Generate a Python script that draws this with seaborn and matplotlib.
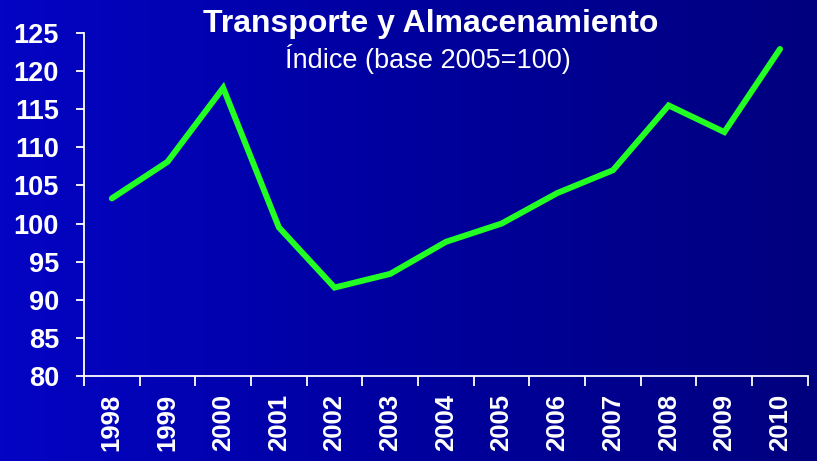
import numpy as np
import pandas as pd
import matplotlib
matplotlib.use("Agg")
import matplotlib.pyplot as plt
import seaborn as sns
from matplotlib.colors import LinearSegmentedColormap

# data
years = ["1998", "1999", "2000", "2001", "2002", "2003", "2004",
         "2005", "2006", "2007", "2008", "2009", "2010"]
indice = [103.3, 108.1, 117.8, 99.5, 91.6, 93.4, 97.6,
          100.0, 104.0, 107.0, 115.5, 112.0, 122.9]
y_ticks = [80, 85, 90, 95, 100, 105, 110, 115, 120, 125]

df = pd.DataFrame({"pos": range(len(years)), "indice": indice})

sns.set_theme(style="white")
plt.rcParams["font.family"] = ["Liberation Sans", "DejaVu Sans"]

fig = plt.figure(figsize=(8.17, 4.61), dpi=100)

# gradient background, blue on the left to navy on the right
bg = fig.add_axes([0, 0, 1, 1], zorder=0)
grad = np.linspace(0, 1, 256).reshape(1, -1)
cmap = LinearSegmentedColormap.from_list("bg", ["#0404c4", "#00009e", "#00007e"])
bg.imshow(grad, aspect="auto", cmap=cmap, extent=[0, 1, 0, 1])
bg.axis("off")

ax = fig.add_axes([0.1028, 0.1844, 0.886, 0.744], zorder=1)
ax.patch.set_alpha(0)

sns.lineplot(data=df, x="pos", y="indice", ax=ax, color="#22ff22",
             linewidth=4.3, solid_joinstyle="miter")

ax.set_xlim(-0.5, len(years) - 0.5)
ax.set_ylim(80, 125)
ax.set_yticks(y_ticks)
ax.set_yticklabels([str(v) for v in y_ticks], fontsize=19.5, fontweight="bold", color="white")

# boundary ticks between categories, labels centred on categories
ax.set_xticks(np.arange(-0.5, len(years), 1.0))
ax.set_xticklabels([])
ax.set_xticks(range(len(years)), minor=True)
ax.set_xticklabels(years, minor=True, rotation=90, fontsize=18.5,
                   fontweight="bold", color="white")
ax.tick_params(axis="x", which="major", direction="out", length=7, width=1.3,
               color="white", bottom=True)
ax.tick_params(axis="x", which="minor", length=0, pad=13)
ax.tick_params(axis="y", direction="out", length=6, width=1.3, color="white",
               left=True, pad=12)

for s in ["top", "right"]:
    ax.spines[s].set_visible(False)
for s in ["left", "bottom"]:
    ax.spines[s].set_color("white")
    ax.spines[s].set_linewidth(1.3)
ax.set_xlabel("")
ax.set_ylabel("")

fig.text(0.5275, 0.948, "Transporte y Almacenamiento", ha="center", va="center",
         fontsize=23, fontweight="bold", color="white")
fig.text(0.524, 0.872, "Índice (base 2005=100)", ha="center", va="center",
         fontsize=19.5, color="white")

fig.savefig("out.png", dpi=100)
